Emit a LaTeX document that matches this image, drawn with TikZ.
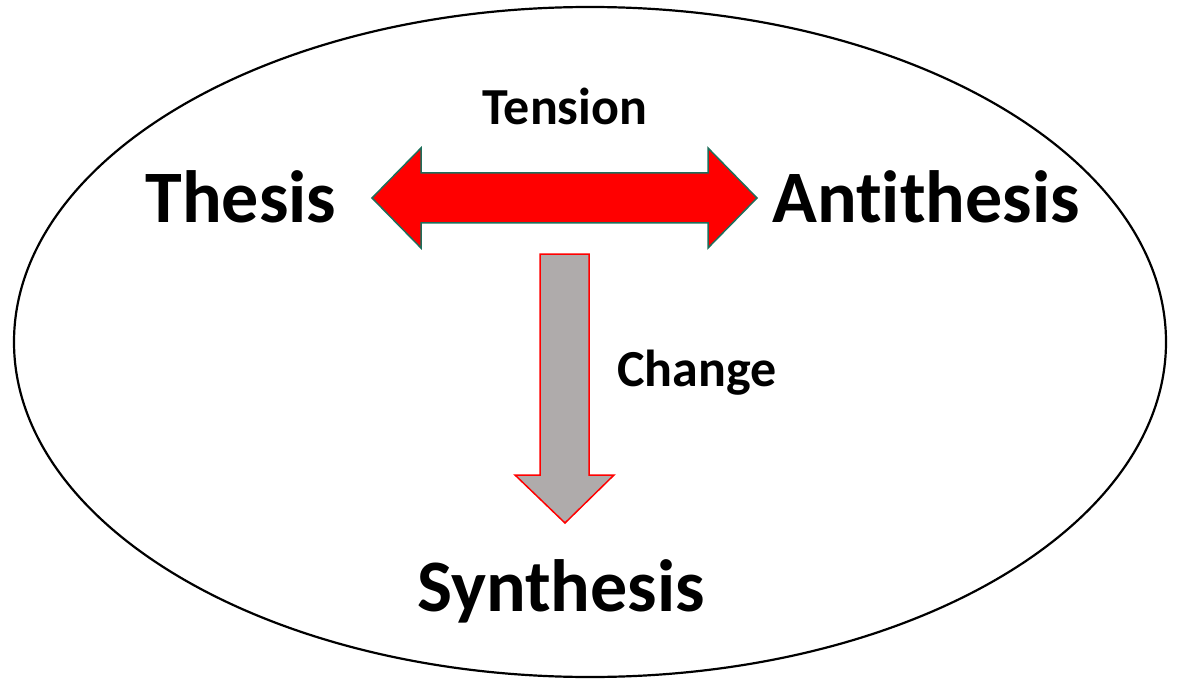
\documentclass[tikz,border=0pt]{standalone}
\usepackage{fontspec}
\setmainfont{Carlito}[Ligatures=NoCommon]
\usepackage{tikz}

\definecolor{arrowred}{RGB}{255,0,0}
\definecolor{tealedge}{RGB}{30,110,90}
\definecolor{changegrey}{RGB}{175,171,171}

\begin{document}
\begin{tikzpicture}[x=1pt, y=-1pt, line join=miter,
  big label/.style={anchor=base, font=\fontsize{74}{80}\selectfont\bfseries},
  small label/.style={anchor=base, font=\fontsize{52}{60}\selectfont\bfseries},
  tension arrow/.style={fill=arrowred, draw=tealedge, line width=1.5pt},
  change arrow/.style={fill=changegrey, draw=arrowred, line width=1.5pt}]

  \useasboundingbox (0,0) rectangle (1178,679);

  % Outer ellipse
  \draw[line width=2.2pt] (590,342) ellipse [x radius=576, y radius=335];

  % Define nodes
  \node[big label] (thesis) at (241,223) {Thesis};
  \node[big label] (antithesis) at (926,223) {Antithesis};
  \node[big label] (synthesis) at (561,611) {Synthesis};
  \node[small label] (tension) at (565,125) {Tension};
  \node[small label] (change) at (697,386) {Change};

  % Double arrow between thesis and antithesis
  \draw[tension arrow] (372,198) -- (421,148) -- (421,173) -- (708,173) -- (708,148)
    -- (757,198) -- (708,248) -- (708,223) -- (421,223) -- (421,248) -- cycle;

  % Arrow down to synthesis
  \draw[change arrow] (540,254) -- (589,254) -- (589,475) -- (614,475)
    -- (565,523) -- (515,475) -- (540,475) -- cycle;
\end{tikzpicture}
\end{document}
